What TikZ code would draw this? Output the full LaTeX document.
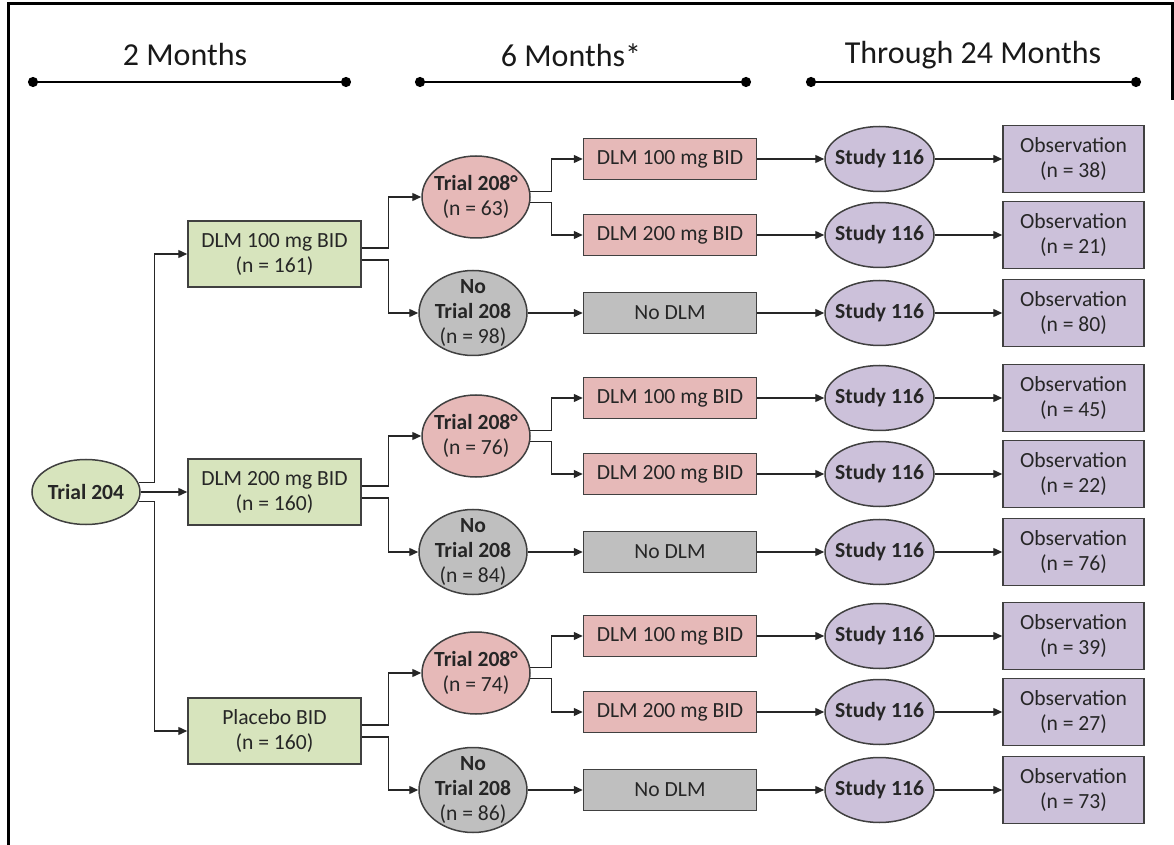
\documentclass[tikz,border=0pt]{standalone}
\usepackage{fontspec}
\setmainfont{Carlito}
\usepackage{xcolor}
\definecolor{Mverde}{RGB}{215,228,189}
\definecolor{Mrosa}{RGB}{230,185,184}
\definecolor{Mgris}{RGB}{191,191,191}
\definecolor{Mlila}{RGB}{204,193,218}
\definecolor{Mborde}{RGB}{64,64,64}
\usepackage{tikz}
\usetikzlibrary{calc, positioning, arrows.meta, shapes.geometric}

\begin{document}
\begin{tikzpicture}[x=0.5pt, y=-0.5pt,
  bx/.style={rectangle, draw=Mborde, line width=0.75pt, fill=#1,
             text=black!85, minimum width=86.5pt, minimum height=20.5pt,
             inner sep=2pt, align=center,
             font=\fontsize{10.8}{12.5}\selectfont},
  ov/.style={ellipse, draw=Mborde, line width=0.75pt, fill=#1,
             text=black!85, minimum width=54pt, inner sep=-4pt,
             align=center, font=\fontsize{10.8}{12.5}\selectfont},
  st/.style={ov=Mlila, minimum width=54.5pt, minimum height=32.5pt},
  ob/.style={bx=Mlila, minimum width=70.5pt, minimum height=33.5pt},
  arr/.style={-{Triangle[length=4.5pt, width=4pt]}, line width=0.7pt,
              draw=black!85},
  tline/.style={{Circle[length=5pt]}-{Circle[length=5pt]}, line width=1.2pt},
  hd/.style={font=\fontsize{16}{19}\selectfont, text=black!90}
]
\useasboundingbox (0,0) rectangle (1174,845);

%% Marco
\draw[line width=1.5pt] (8,845) -- (8,4) -- (1172,4) -- (1172,100);

%% Encabezados
\node[hd] (h1) at (185,55) {2 Months};
\node[hd] (h2) at (571,55) {6 Months*};
\node[hd] (h3) at (973,55) {Through 24 Months};
\coordinate (h1a) at (28,82);
\coordinate (h1b) at (351,82);
\coordinate (h2a) at (415,82);
\coordinate (h2b) at (751,82);
\coordinate (h3a) at (806,82);
\coordinate (h3b) at (1141,82);
\draw[tline] (h1a) -- (h1b);
\draw[tline] (h2a) -- (h2b);
\draw[tline] (h3a) -- (h3b);

%% Trial 204
\node[ov=Mverde, minimum height=32.5pt] (t204) at (86,492) {\textbf{Trial 204}};

%% Grupo 1 — DLM 100 mg BID
\node[bx=Mverde, minimum height=33pt] (g1) at (274.5,254) {DLM 100 mg BID\\(n = 161)};
\node[ov=Mrosa, minimum height=41pt] (ta1) at (476,197) {\textbf{Trial 208°}\\(n = 63)};
\node[ov=Mgris, minimum height=42.5pt] (tn1) at (473,313) {\textbf{No}\\\textbf{Trial 208}\\(n = 98)};
\node[bx=Mrosa] (d11) at (670,159) {DLM 100 mg BID};
\node[bx=Mrosa] (d12) at (670,235) {DLM 200 mg BID};
\node[bx=Mgris] (d13) at (670,313) {No DLM};
\node[st] (s11) at (879.5,159) {\textbf{Study 116}};
\node[st] (s12) at (879.5,235) {\textbf{Study 116}};
\node[st] (s13) at (879.5,313) {\textbf{Study 116}};
\node[ob] (o11) at (1073.5,159) {Observation\\(n = 38)};
\node[ob] (o12) at (1073.5,235) {Observation\\(n = 21)};
\node[ob] (o13) at (1073.5,313) {Observation\\(n = 80)};

%% Grupo 2 — DLM 200 mg BID
\node[bx=Mverde, minimum height=33pt] (g2) at (274.5,492) {DLM 200 mg BID\\(n = 160)};
\node[ov=Mrosa, minimum height=41pt] (ta2) at (476,436) {\textbf{Trial 208°}\\(n = 76)};
\node[ov=Mgris, minimum height=42.5pt] (tn2) at (473,552) {\textbf{No}\\\textbf{Trial 208}\\(n = 84)};
\node[bx=Mrosa] (d21) at (670,398) {DLM 100 mg BID};
\node[bx=Mrosa] (d22) at (670,474) {DLM 200 mg BID};
\node[bx=Mgris] (d23) at (670,552) {No DLM};
\node[st] (s21) at (879.5,398) {\textbf{Study 116}};
\node[st] (s22) at (879.5,474) {\textbf{Study 116}};
\node[st] (s23) at (879.5,552) {\textbf{Study 116}};
\node[ob] (o21) at (1073.5,398) {Observation\\(n = 45)};
\node[ob] (o22) at (1073.5,474) {Observation\\(n = 22)};
\node[ob] (o23) at (1073.5,552) {Observation\\(n = 76)};

%% Grupo 3 — Placebo BID
\node[bx=Mverde, minimum height=33pt] (g3) at (274.5,731) {Placebo BID\\(n = 160)};
\node[ov=Mrosa, minimum height=41pt] (ta3) at (476,673) {\textbf{Trial 208°}\\(n = 74)};
\node[ov=Mgris, minimum height=42.5pt] (tn3) at (473,790) {\textbf{No}\\\textbf{Trial 208}\\(n = 86)};
\node[bx=Mrosa] (d31) at (670,636) {DLM 100 mg BID};
\node[bx=Mrosa] (d32) at (670,712) {DLM 200 mg BID};
\node[bx=Mgris] (d33) at (670,790) {No DLM};
\node[st] (s31) at (879.5,636) {\textbf{Study 116}};
\node[st] (s32) at (879.5,712) {\textbf{Study 116}};
\node[st] (s33) at (879.5,790) {\textbf{Study 116}};
\node[ob] (o31) at (1073.5,636) {Observation\\(n = 39)};
\node[ob] (o32) at (1073.5,712) {Observation\\(n = 27)};
\node[ob] (o33) at (1073.5,790) {Observation\\(n = 73)};

%% Conectores
\draw[arr] (t204.10) -- ++(8pt,0) |- (g1.west);
\draw[arr] (t204.east) -- (g2.west);
\draw[arr] (t204.-10) -- ++(8pt,0) |- (g3.west);

\draw[arr] ([yshift=3pt]g1.east) -- ++(13.5pt,0) |- (ta1.west);
\draw[arr] ([yshift=-3pt]g1.east) -- ++(13.5pt,0) |- (tn1.west);
\draw[arr] ([yshift=3pt]g2.east) -- ++(13.5pt,0) |- (ta2.west);
\draw[arr] ([yshift=-3pt]g2.east) -- ++(13.5pt,0) |- (tn2.west);
\draw[arr] ([yshift=3pt]g3.east) -- ++(13.5pt,0) |- (ta3.west);
\draw[arr] ([yshift=-3pt]g3.east) -- ++(13.5pt,0) |- (tn3.west);

\draw[arr] (ta1.6) -- ++(10.5pt,0) |- (d11.west);
\draw[arr] (ta1.-6) -- ++(10.5pt,0) |- (d12.west);
\draw[arr] (ta2.6) -- ++(10.5pt,0) |- (d21.west);
\draw[arr] (ta2.-6) -- ++(10.5pt,0) |- (d22.west);
\draw[arr] (ta3.6) -- ++(10.5pt,0) |- (d31.west);
\draw[arr] (ta3.-6) -- ++(10.5pt,0) |- (d32.west);

\draw[arr] (tn1.east) -- (d13.west);
\draw[arr] (tn2.east) -- (d23.west);
\draw[arr] (tn3.east) -- (d33.west);

\draw[arr] (d11.east) -- (s11.west);
\draw[arr] (d12.east) -- (s12.west);
\draw[arr] (d13.east) -- (s13.west);
\draw[arr] (d21.east) -- (s21.west);
\draw[arr] (d22.east) -- (s22.west);
\draw[arr] (d23.east) -- (s23.west);
\draw[arr] (d31.east) -- (s31.west);
\draw[arr] (d32.east) -- (s32.west);
\draw[arr] (d33.east) -- (s33.west);

\draw[arr] (s11.east) -- (o11.west);
\draw[arr] (s12.east) -- (o12.west);
\draw[arr] (s13.east) -- (o13.west);
\draw[arr] (s21.east) -- (o21.west);
\draw[arr] (s22.east) -- (o22.west);
\draw[arr] (s23.east) -- (o23.west);
\draw[arr] (s31.east) -- (o31.west);
\draw[arr] (s32.east) -- (o32.west);
\draw[arr] (s33.east) -- (o33.west);

\end{tikzpicture}
\end{document}
